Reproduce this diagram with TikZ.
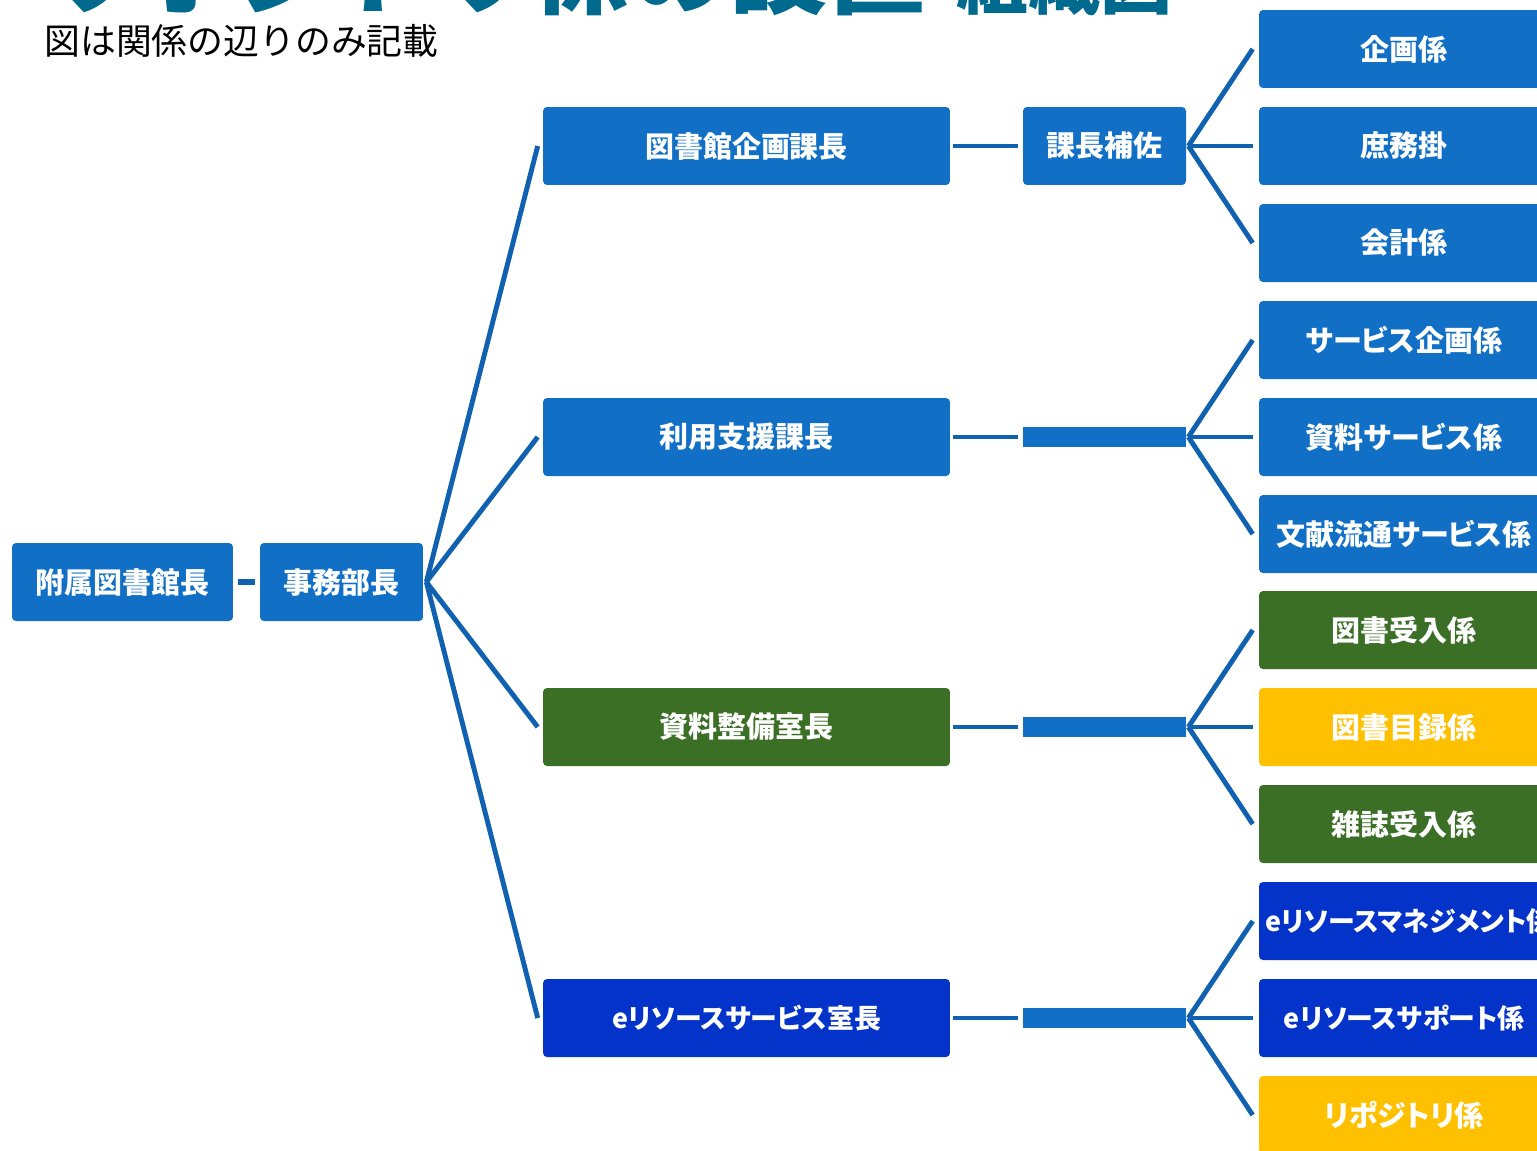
\documentclass[tikz,border=0pt]{standalone}
\usepackage{fontspec}
\usepackage{xcolor}
\usepackage{tikz}
\setmainfont{Noto Sans CJK JP}
\newfontfamily\boxfont{Noto Sans CJK JP}[RawFeature={+palt}]
\definecolor{boxblue}{RGB}{17, 112, 198}
\definecolor{linkblue}{RGB}{16, 98, 176}
\definecolor{staffgreen}{RGB}{59, 111, 38}
\definecolor{changeyellow}{RGB}{255, 192, 0}
\definecolor{eresblue}{RGB}{4, 51, 201}
\definecolor{titleteal}{RGB}{0, 106, 142}
\usetikzlibrary{positioning, calc}

\begin{document}
\begin{tikzpicture}[x=0.02cm, y=-0.02cm,
    chief/.style={rectangle, fill=boxblue, rounded corners=0.08cm, minimum height=1.56cm, inner sep=0pt, text=white, font=\boxfont\fontsize{16.5}{20}\selectfont\bfseries},
    head/.style={chief, minimum width=8.14cm},
    assist/.style={chief, minimum width=3.26cm},
    spacer/.style={rectangle, fill=boxblue, minimum width=3.26cm, minimum height=0.4cm, inner sep=0pt},
    unit/.style={chief, minimum width=5.8cm},
    eres/.style={fill=eresblue, font=\boxfont\fontsize{15.3}{19}\selectfont\bfseries},
    link/.style={draw=linkblue, line width=2.8pt}
]
    \clip (0,0) rectangle (1537,1150);

    % Title (cut at the top edge)
    \node[anchor=base west, inner sep=0pt, text=titleteal, font=\fontsize{56}{60}\selectfont\bfseries] (title) at (40, 6) {リポジトリ係の設置};
    \node[anchor=base west, inner sep=0pt, text=titleteal, font=\fontsize{41}{44}\selectfont\bfseries] (titlesub) at (956, 8) {組織図};
    \node[anchor=west, inner sep=0pt, font=\fontsize{20.4}{24}\selectfont] (note) at (44, 41) {図は関係の辺りのみ記載};

    % Library and office
    \node[chief, minimum width=4.42cm] (lib) at (122.5, 582) {附属図書館長};
    \node[assist] (office) at (341.5, 582) {事務部長};

    % Heads
    \node[head] (plan) at (746.5, 146) {図書館企画課長};
    \node[head] (user) at (746.5, 437) {利用支援課長};
    \node[head, fill=staffgreen] (coll) at (746.5, 727) {資料整備室長};
    \node[head, eres] (eres) at (746.5, 1018) {eリソースサービス室長};

    % Middle column
    \node[assist] (hosa) at (1104.5, 146) {課長補佐};
    \node[spacer] (mid2) at (1104.5, 437) {};
    \node[spacer] (mid3) at (1104.5, 727) {};
    \node[spacer] (mid4) at (1104.5, 1018) {};

    % Units
    \node[unit] (u1) at (1404, 49) {企画係};
    \node[unit] (u2) at (1404, 146) {庶務掛};
    \node[unit] (u3) at (1404, 243) {会計係};
    \node[unit] (u4) at (1404, 340) {サービス企画係};
    \node[unit] (u5) at (1404, 437) {資料サービス係};
    \node[unit] (u6) at (1404, 534) {文献流通サービス係};
    \node[unit, fill=staffgreen] (u7) at (1404, 630) {図書受入係};
    \node[unit, fill=changeyellow] (u8) at (1404, 727) {図書目録係};
    \node[unit, fill=staffgreen] (u9) at (1404, 824) {雑誌受入係};
    \node[unit, eres, text width=5.56cm, inner xsep=0.12cm, align=left] (u10) at (1404, 921) {eリソースマネジメント係};
    \node[unit, eres] (u11) at (1404, 1018) {eリソースサポート係};
    \node[unit, fill=changeyellow] (u12) at (1404, 1115) {リポジトリ係};

    % Connectors
    \draw[link, line width=3.2pt, shorten <=0.1cm, shorten >=0.1cm] (lib) -- (office);
    \foreach \h in {plan, user, coll, eres}
        \draw[link] ($(office.east)+(3,0)$) -- ($(\h.west)+(-5,0)$);
    \draw[link] ($(plan.east)+(3,0)$) -- ($(hosa.west)+(-5,0)$);
    \draw[link] ($(user.east)+(3,0)$) -- ($(mid2.west)+(-5,0)$);
    \draw[link] ($(coll.east)+(3,0)$) -- ($(mid3.west)+(-5,0)$);
    \draw[link] ($(eres.east)+(3,0)$) -- ($(mid4.west)+(-5,0)$);
    \foreach \m/\a/\b/\c in {hosa/u1/u2/u3, mid2/u4/u5/u6, mid3/u7/u8/u9, mid4/u10/u11/u12}
        \foreach \u in {\a, \b, \c}
            \draw[link] ($(\m.east)+(2,0)$) -- ($(\u.west)+(-6,0)$);
\end{tikzpicture}
\end{document}
